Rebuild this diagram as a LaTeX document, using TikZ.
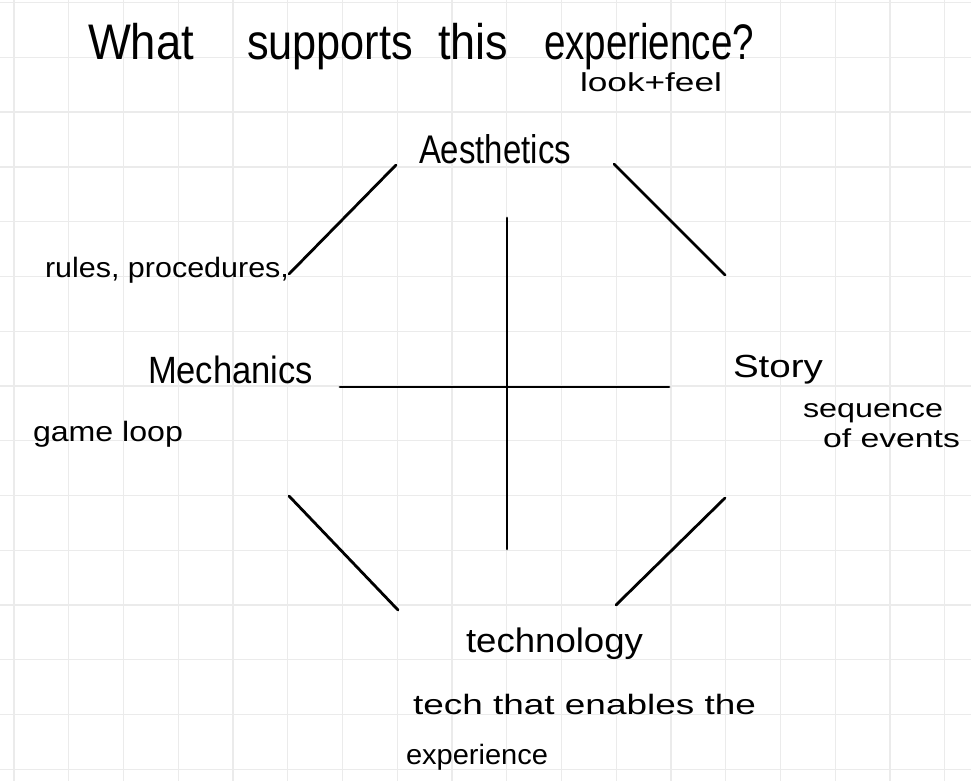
\documentclass[tikz,border=0pt]{standalone}
\usepackage{fontspec}
\usepackage{graphicx}
\setmainfont{Liberation Sans}
\definecolor{gridgray}{HTML}{EBEBEB}
\newcommand\handw[3]{\fontsize{#2}{#2}\selectfont\resizebox{#1pt}{\height}{#3}}
\tikzset{
  gridline/.style={draw=gridgray, line width=1.4pt},
  ink/.style={draw=black, line width=2.8pt, line cap=round},
  lbl/.style={anchor=base west, inner sep=0pt, outer sep=0pt, text=black},
}
\begin{document}
\begin{tikzpicture}[x=1pt,y=-1pt]
\useasboundingbox (0,0) rectangle (971,781);
\fill[white] (0,0) rectangle (971,781);
% grid
\foreach \i in {0,...,17} {
  \draw[gridline] ({14+54.75*\i},0) -- ({14+54.75*\i},781);
}
\foreach \j in {0,...,14} {
  \draw[gridline] (0,{2.7+54.75*\j}) -- (971,{2.7+54.75*\j});
}
% title
\node[lbl] (tw1) at (88,60) {\handw{106}{50}{What}};
\node[lbl] (tw2) at (247,60) {\handw{166}{50}{supports}};
\node[lbl] (tw3) at (438,60) {\handw{70}{50}{this}};
\node[lbl] (tw4) at (544,60) {\handw{210}{50}{experience?}};
\node[lbl] (look) at (580,92) {\handw{142}{26}{look+feel}};
% labels
\node[lbl] (aes) at (419,163) {\handw{152}{40}{Aesthetics}};
\node[lbl] (rules) at (45,277) {\handw{244}{28}{rules, procedures,}};
\node[lbl] (mech) at (148,383) {\handw{165}{38}{Mechanics}};
\node[lbl] (loop) at (33,441) {\handw{150}{28}{game loop}};
\node[lbl] (story) at (733,377) {\handw{90}{32}{Story}};
\node[lbl] (seq) at (803,417) {\handw{140}{26}{sequence}};
\node[lbl] (events) at (823,447) {\handw{137}{26}{of events}};
\node[lbl] (tech) at (466,652) {\handw{177}{34}{technology}};
\node[lbl] (techd) at (413,714) {\handw{343}{28}{tech that enables the}};
\node[lbl] (exp) at (406,764) {\handw{142}{28}{experience}};
% octagon segments
\coordinate (ula) at (396,165); \coordinate (ulb) at (289,274);
\coordinate (ura) at (614,164); \coordinate (urb) at (725,275);
\coordinate (lla) at (289,496); \coordinate (llb) at (398,610);
\coordinate (lra) at (725,498); \coordinate (lrb) at (616,605);
\draw[ink] (ula) -- (ulb);
\draw[ink] (ura) -- (urb);
\draw[ink] (lla) -- (llb);
\draw[ink] (lra) -- (lrb);
% cross
\coordinate (vt) at (507,218); \coordinate (vb) at (507,549);
\coordinate (hl) at (340,387); \coordinate (hr) at (669,387);
\draw[ink] (vt) -- (vb);
\draw[ink] (hl) -- (hr);
\end{tikzpicture}
\end{document}
